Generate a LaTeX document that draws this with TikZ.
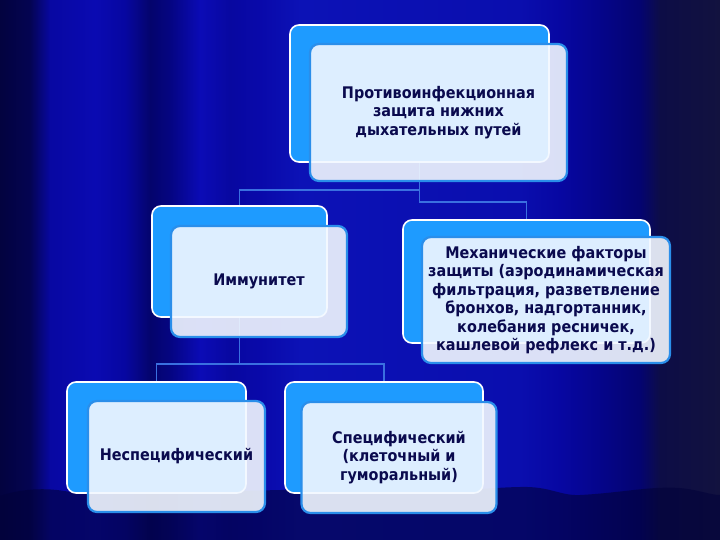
\documentclass[tikz,border=0pt]{standalone}
\usepackage{fontspec}
\setmainfont{DejaVu Sans Condensed}
\pgfdeclarelayer{bg}
\pgfdeclarelayer{lines}
\pgfsetlayers{bg,lines,main}
\definecolor{boxblue}{HTML}{1E9BFF}
\definecolor{edgeblue}{HTML}{2A8EEA}
\definecolor{paleblue}{HTML}{F2F8FF}
\definecolor{navy}{HTML}{0A0A4E}
\definecolor{lineblue}{HTML}{3A70E0}
\definecolor{floorc}{HTML}{02023A}
\definecolor{sa}{HTML}{03033F}
\definecolor{sb}{HTML}{040452}
\definecolor{sc}{HTML}{0808A2}
\definecolor{sd}{HTML}{0A0AB2}
\definecolor{se}{HTML}{0707A0}
\definecolor{sf}{HTML}{04046C}
\definecolor{sg}{HTML}{050582}
\definecolor{sh}{HTML}{0B0BB6}
\definecolor{si}{HTML}{0808A0}
\definecolor{sj}{HTML}{0909AA}
\definecolor{sk}{HTML}{0C12B6}
\definecolor{sl}{HTML}{0A0EAE}
\definecolor{sm}{HTML}{0707A2}
\definecolor{sn}{HTML}{05058A}
\definecolor{so}{HTML}{040470}
\definecolor{sp}{HTML}{0D0D46}
\definecolor{sq}{HTML}{12123F}
\begin{document}
\begin{tikzpicture}[x=1pt,y=-1pt,
  backbox/.style={draw=white, line width=1.6pt, fill=boxblue, rounded corners=9pt, inner sep=0pt},
  frontbox/.style={draw=edgeblue, line width=2.2pt, fill=paleblue, fill opacity=0.9, text opacity=1,
    rounded corners=9pt, inner sep=0pt, text=navy, align=center,
    font=\bfseries\fontsize{16}{18.5}\selectfont},
  link/.style={draw=lineblue, line width=1.6pt}]
\useasboundingbox (0,0) rectangle (720,540);
\begin{pgfonlayer}{bg}
\foreach \xa/\ca/\xb/\cb in {0/sa/30/sb, 30/sb/50/sc, 50/sc/95/sd, 95/sd/125/se, 125/se/150/sf,
  150/sf/170/sg, 170/sg/200/sh, 200/sh/230/si, 230/si/260/sj, 260/sj/300/sk, 300/sk/520/sl,
  520/sl/560/sm, 560/sm/600/sn, 600/sn/640/so, 640/so/660/sp, 660/sp/720/sq}
  \fill[left color=\ca, right color=\cb] (\xa,0) rectangle ({\xb+0.6},540);
\fill[floorc, opacity=0.6] (0,496) .. controls (20,489) and (45,487) .. (70,492)
  .. controls (110,498) and (140,488) .. (180,490) .. controls (240,494) and (300,486) .. (360,492)
  .. controls (420,497) and (470,488) .. (520,487) .. controls (550,486) and (560,496) .. (580,495)
  .. controls (620,493) and (650,486) .. (680,488) .. controls (700,490) and (710,495) .. (720,495)
  -- (720,540) -- (0,540) -- cycle;
\end{pgfonlayer}

% boxes
\node[backbox, minimum width=259pt, minimum height=137pt] (topb) at (419.5,93.5) {};
\node[frontbox, minimum width=257pt, minimum height=137pt] (topf) at (438.5,112.5)
  {Противоинфекционная\\защита нижних\\дыхательных путей};

\node[backbox, minimum width=175pt, minimum height=111pt] (immb) at (239.5,261.5) {};
\node[frontbox, minimum width=176pt, minimum height=111pt] (immf) at (259,281.5) {Иммунитет};

\node[backbox, minimum width=247pt, minimum height=123pt] (mechb) at (526.5,281.5) {};
\node[frontbox, minimum width=248pt, minimum height=126pt] (mechf) at (546,300)
  {Механические факторы\\защиты (аэродинамическая\\фильтрация, разветвление\\бронхов, надгортанник,\\колебания ресничек,\\кашлевой рефлекс и т.д.)};

\node[backbox, minimum width=179pt, minimum height=111pt] (nespb) at (156.5,437.5) {};
\node[frontbox, minimum width=177pt, minimum height=111pt] (nespf) at (176.5,456.5) {Неспецифический};

\node[backbox, minimum width=198pt, minimum height=111pt] (specb) at (384,437.5) {};
\node[frontbox, minimum width=195pt, minimum height=111pt] (specf) at (399,457.5)
  {Специфический\\(клеточный и\\гуморальный)};

% connectors
\coordinate (j1) at (419.5,190);
\coordinate (j2) at (419.5,202);
\coordinate (j3) at (239.5,364);
\begin{pgfonlayer}{lines}
\draw[link] (topb.south) -- (j1) -| (immb.north);
\draw[link] (j1) -- (j2) -| (mechb.north);
\draw[link] (immb.south) -- (j3);
\draw[link] (nespb.north) |- (j3) -| (specb.north);
\end{pgfonlayer}
\end{tikzpicture}
\end{document}
